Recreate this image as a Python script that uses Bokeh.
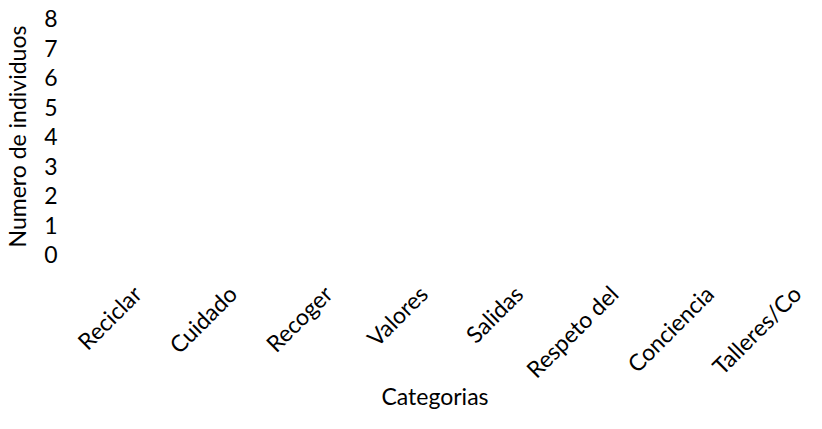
from bokeh.plotting import figure
from bokeh.models import Range1d, FixedTicker
from bokeh.embed import file_html
from bokeh.resources import INLINE
import math

categories = ["Reciclar", "Cuidado", "Recoger", "Valores", "Salidas",
              "Respeto del", "Conciencia", "Talleres/Co"]
counts = [0, 0, 0, 0, 0, 0, 0, 0]
y_ticks = [0, 1, 2, 3, 4, 5, 6, 7, 8]
x_title = "Categorias"
y_title = "Numero de individuos"

FONT = "Lato"
FS = "23px"

x_pos = list(range(len(categories)))

p = figure(x_range=Range1d(-0.771, 7.021), y_range=Range1d(0, 8),
           width=806, height=413,
           output_backend="svg", toolbar_location=None,
           min_border_top=18, min_border_left=58, min_border_right=0,
           min_border_bottom=159,
           outline_line_color=None)

p.vbar(x=x_pos, top=counts, width=0.6, fill_color="#4472C4", line_color=None)

p.grid.visible = False

for ax in (p.xaxis[0], p.yaxis[0]):
    ax.axis_line_color = None
    ax.major_tick_line_color = None
    ax.minor_tick_line_color = None
    ax.major_tick_out = 0
    ax.major_tick_in = 0
    ax.minor_tick_out = 0
    ax.minor_tick_in = 0
    ax.major_label_text_font = FONT
    ax.major_label_text_font_size = FS
    ax.major_label_text_color = "black"
    ax.axis_label_text_font = FONT
    ax.axis_label_text_font_size = FS
    ax.axis_label_text_font_style = "normal"
    ax.axis_label_text_color = "black"

p.yaxis.ticker = FixedTicker(ticks=y_ticks)
p.yaxis.axis_label = y_title
p.yaxis.major_label_standoff = 6
p.yaxis.axis_label_standoff = 10

p.xaxis.ticker = FixedTicker(ticks=x_pos)
p.xaxis.major_label_overrides = {i: c for i, c in zip(x_pos, categories)}
p.xaxis.axis_label = x_title
p.xaxis.major_label_orientation = math.pi / 4
p.xaxis.major_label_standoff = 35
p.xaxis.axis_label_standoff = -14

open("out.html", "w").write(file_html(p, INLINE))
